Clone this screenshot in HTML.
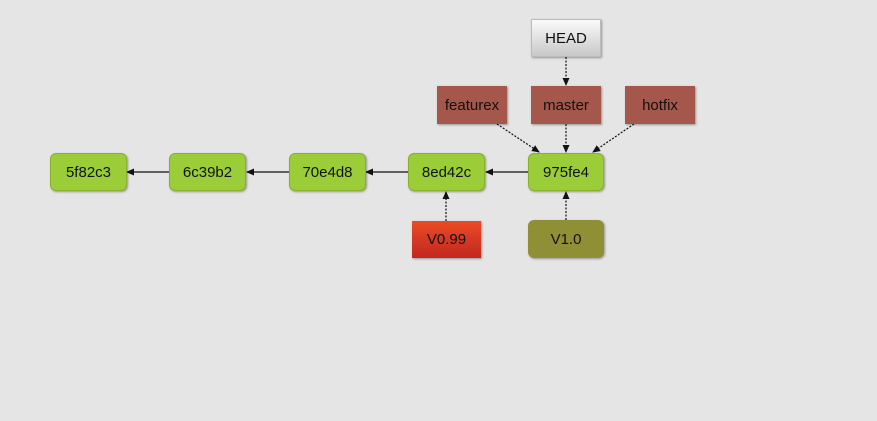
<!DOCTYPE html>
<html><head><style>
body{margin:0;width:877px;height:421px;background:#e5e5e5;position:relative;overflow:hidden;font-family:"Liberation Sans",sans-serif;font-size:15px;color:#111}
.b{position:absolute;display:flex;align-items:center;justify-content:center;box-sizing:border-box;box-shadow:1px 1px 2px rgba(0,0,0,.35)}
.c{background:#9acd38;border-radius:6px;border:1px solid #8ab030}
.r{background:#a4574a}
svg{position:absolute;left:0;top:0}
</style></head><body>
<svg width="877" height="421">
<defs><marker id="a" markerUnits="userSpaceOnUse" markerWidth="8" markerHeight="8" refX="7" refY="4" orient="auto"><path d="M0,0.5L8,4L0,7.5z" fill="#111"/></marker></defs>
<g stroke="#111" stroke-width="1.2" marker-end="url(#a)">
<line x1="528" y1="172" x2="486" y2="172"/>
<line x1="408" y1="172" x2="366" y2="172"/>
<line x1="289" y1="172" x2="247" y2="172"/>
<line x1="169" y1="172" x2="127" y2="172"/>
</g>
<g stroke="#111" stroke-width="1.2" stroke-dasharray="2,1.5" marker-end="url(#a)">
<line x1="566" y1="57" x2="566" y2="85"/>
<line x1="566" y1="124" x2="566" y2="152"/>
<line x1="497" y1="124" x2="539" y2="152"/>
<line x1="634" y1="124" x2="593" y2="152"/>
<line x1="446" y1="221" x2="446" y2="192"/>
<line x1="566" y1="220" x2="566" y2="192"/>
</g>
</svg>
<div class="b" style="left:531px;top:19px;width:70px;height:38px;background:linear-gradient(#fafafa,#c8c8c8);border:1px solid #bbb">HEAD</div>
<div class="b r" style="left:437px;top:86px;width:70px;height:38px">featurex</div>
<div class="b r" style="left:531px;top:86px;width:70px;height:38px">master</div>
<div class="b r" style="left:625px;top:86px;width:70px;height:38px">hotfix</div>
<div class="b c" style="left:50px;top:153px;width:77px;height:38px">5f82c3</div>
<div class="b c" style="left:169px;top:153px;width:77px;height:38px">6c39b2</div>
<div class="b c" style="left:289px;top:153px;width:77px;height:38px">70e4d8</div>
<div class="b c" style="left:408px;top:153px;width:77px;height:38px">8ed42c</div>
<div class="b c" style="left:528px;top:153px;width:76px;height:38px">975fe4</div>
<div class="b" style="left:412px;top:221px;width:69px;height:37px;background:linear-gradient(#ea4c26,#c2261f)">V0.99</div>
<div class="b" style="left:528px;top:220px;width:76px;height:38px;background:#8f8f35;border-radius:6px">V1.0</div>
</body></html>
